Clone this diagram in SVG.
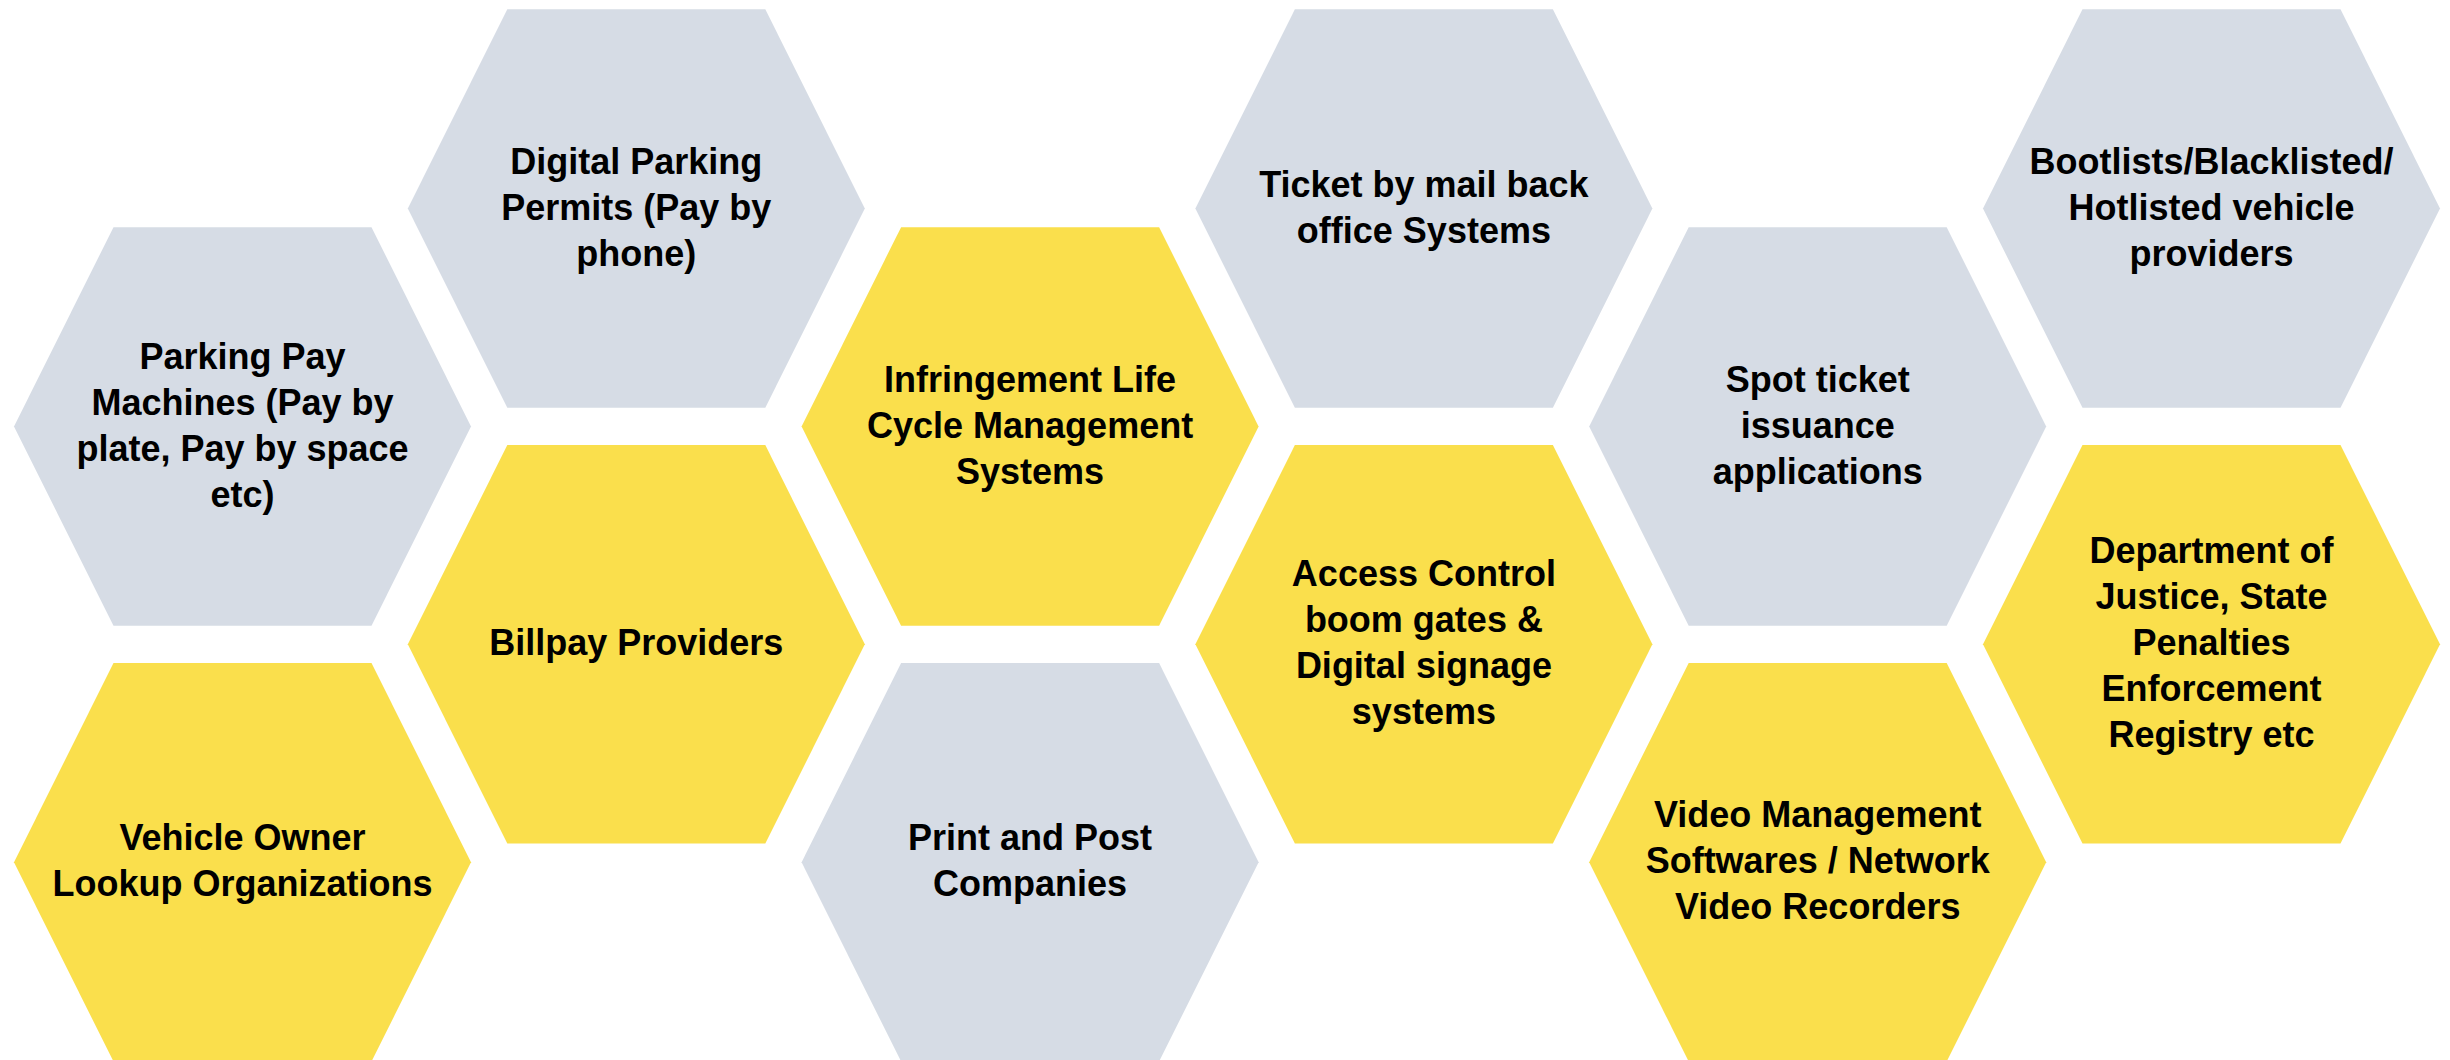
<svg xmlns="http://www.w3.org/2000/svg" xmlns:xlink="http://www.w3.org/1999/xlink" width="2450" height="1060" viewBox="0 0 2450 1060">
<style>
.grey{fill:#D6DCE5}
.yellow{fill:#FADF4C}
.lbl{font-family:"Liberation Sans",Arial,sans-serif;font-weight:bold;font-size:36px;fill:#000;text-anchor:middle}
</style>
<defs>
<polygon id="hex" points="0,199.25 99.5,0 357.5,0 457,199.25 357.5,398.5 99.5,398.5"/>
</defs>
<rect width="2450" height="1060" fill="#FFFFFF"/>
<g id="connectors"/>
<g id="parking-pay-machines">
<use xlink:href="#hex" href="#hex" class="grey" x="14" y="227.2"/>
<text class="lbl" y="368.5"><tspan x="242.5">Parking Pay</tspan><tspan x="242.5" dy="46">Machines (Pay by</tspan><tspan x="242.5" dy="46">plate, Pay by space</tspan><tspan x="242.5" dy="46">etc)</tspan></text>
</g>
<g id="vehicle-owner-lookup">
<use xlink:href="#hex" href="#hex" class="yellow" x="14" y="663"/>
<text class="lbl" y="850.3"><tspan x="242.5">Vehicle Owner</tspan><tspan x="242.5" dy="46">Lookup Organizations</tspan></text>
</g>
<g id="digital-parking-permits">
<use xlink:href="#hex" href="#hex" class="grey" x="407.8" y="9.3"/>
<text class="lbl" y="173.6"><tspan x="636.3">Digital Parking</tspan><tspan x="636.3" dy="46">Permits (Pay by</tspan><tspan x="636.3" dy="46">phone)</tspan></text>
</g>
<g id="billpay-providers">
<use xlink:href="#hex" href="#hex" class="yellow" x="407.8" y="445.1"/>
<text class="lbl" y="655.4"><tspan x="636.3">Billpay Providers</tspan></text>
</g>
<g id="infringement-life-cycle">
<use xlink:href="#hex" href="#hex" class="yellow" x="801.6" y="227.2"/>
<text class="lbl" y="391.5"><tspan x="1030.1">Infringement Life</tspan><tspan x="1030.1" dy="46">Cycle Management</tspan><tspan x="1030.1" dy="46">Systems</tspan></text>
</g>
<g id="print-and-post">
<use xlink:href="#hex" href="#hex" class="grey" x="801.6" y="663"/>
<text class="lbl" y="850.3"><tspan x="1030.1">Print and Post</tspan><tspan x="1030.1" dy="46">Companies</tspan></text>
</g>
<g id="ticket-by-mail">
<use xlink:href="#hex" href="#hex" class="grey" x="1195.4" y="9.3"/>
<text class="lbl" y="196.6"><tspan x="1423.9">Ticket by mail back</tspan><tspan x="1423.9" dy="46">office Systems</tspan></text>
</g>
<g id="access-control">
<use xlink:href="#hex" href="#hex" class="yellow" x="1195.4" y="445.1"/>
<text class="lbl" y="586.4"><tspan x="1423.9">Access Control</tspan><tspan x="1423.9" dy="46">boom gates &amp;</tspan><tspan x="1423.9" dy="46">Digital signage</tspan><tspan x="1423.9" dy="46">systems</tspan></text>
</g>
<g id="spot-ticket">
<use xlink:href="#hex" href="#hex" class="grey" x="1589.2" y="227.2"/>
<text class="lbl" y="391.5"><tspan x="1817.7">Spot ticket</tspan><tspan x="1817.7" dy="46">issuance</tspan><tspan x="1817.7" dy="46">applications</tspan></text>
</g>
<g id="video-management">
<use xlink:href="#hex" href="#hex" class="yellow" x="1589.2" y="663"/>
<text class="lbl" y="827.3"><tspan x="1817.7">Video Management</tspan><tspan x="1817.7" dy="46">Softwares / Network</tspan><tspan x="1817.7" dy="46">Video Recorders</tspan></text>
</g>
<g id="bootlists">
<use xlink:href="#hex" href="#hex" class="grey" x="1983" y="9.3"/>
<text class="lbl" y="173.6"><tspan x="2211.5">Bootlists/Blacklisted/</tspan><tspan x="2211.5" dy="46">Hotlisted vehicle</tspan><tspan x="2211.5" dy="46">providers</tspan></text>
</g>
<g id="department-of-justice">
<use xlink:href="#hex" href="#hex" class="yellow" x="1983" y="445.1"/>
<text class="lbl" y="563.4"><tspan x="2211.5">Department of</tspan><tspan x="2211.5" dy="46">Justice, State</tspan><tspan x="2211.5" dy="46">Penalties</tspan><tspan x="2211.5" dy="46">Enforcement</tspan><tspan x="2211.5" dy="46">Registry etc</tspan></text>
</g>
</svg>
